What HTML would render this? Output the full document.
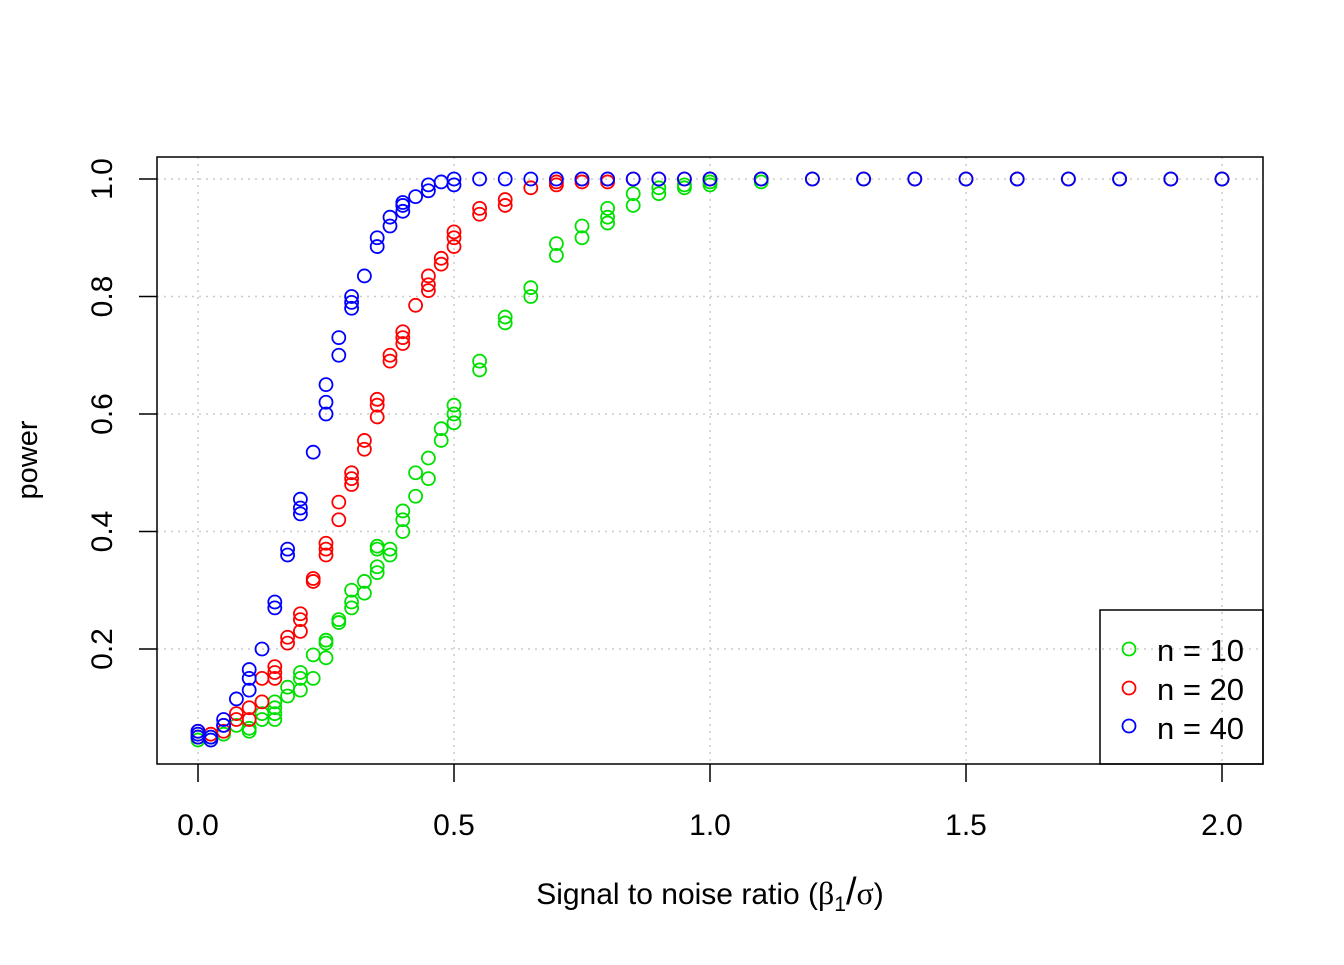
<!DOCTYPE html>
<html><head><meta charset="utf-8"><style>
body{margin:0;background:#fff}
svg text{font-family:"Liberation Sans",Arial,sans-serif;fill:#000}
</style></head><body>
<svg id="chart" width="1344" height="960" xmlns="http://www.w3.org/2000/svg">
<g id="grid"></g>
<g id="pts"></g>
<rect x="157" y="157" width="1106" height="607" fill="none" stroke="#000" stroke-width="1.5"/>
<g id="axes"></g>
<text x="710" y="904" font-size="30" text-anchor="middle">Signal to noise ratio (<tspan font-family="Liberation Serif" font-size="32">β</tspan><tspan font-size="21" dy="7">1</tspan><tspan dy="-7" font-size="38">/</tspan><tspan font-family="Liberation Serif" font-size="32">σ</tspan>)</text>
<text transform="translate(37,460) rotate(-90)" font-size="29" text-anchor="middle">power</text>
<g>
<rect x="1100" y="610" width="163" height="154" fill="none" stroke="#000" stroke-width="1.5"/>
<circle cx="1129" cy="649" r="6.5" fill="none" stroke="#00e000" stroke-width="1.8"/>
<text x="1157" y="661" font-size="31">n = 10</text>
<circle cx="1129" cy="688" r="6.5" fill="none" stroke="#f00" stroke-width="1.8"/>
<text x="1157" y="700" font-size="31">n = 20</text>
<circle cx="1129" cy="726" r="6.5" fill="none" stroke="#00f" stroke-width="1.8"/>
<text x="1157" y="739" font-size="31">n = 40</text>
</g>
</svg>
<script>
const xTicks=[0,0.5,1,1.5,2];
const xTickLabels=["0.0","0.5","1.0","1.5","2.0"];
const yTicks=[0.2,0.4,0.6,0.8,1.0];
const yTickLabels=["0.2","0.4","0.6","0.8","1.0"];
const xs=[0,0.025,0.05,0.075,0.1,0.125,0.15,0.175,0.2,0.225,0.25,0.275,0.3,0.325,0.35,0.375,0.4,0.425,0.45,0.475,0.5,0.55,0.6,0.65,0.7,0.75,0.8,0.85,0.9,0.95,1.0,1.1,1.2,1.3,1.4,1.5,1.6,1.7,1.8,1.9,2.0];
const green=[[0.045,0.05],[0.05],[0.055],[0.07],[0.06,0.065],[0.08,0.09],[0.08,0.09,0.1,0.11],[0.12,0.135],[0.13,0.15,0.16],[0.15,0.19],[0.185,0.21,0.215],[0.245,0.25],[0.27,0.28,0.3],[0.295,0.315],[0.33,0.34,0.37,0.375],[0.36,0.37],[0.4,0.42,0.435],[0.46,0.5],[0.49,0.525],[0.555,0.575],[0.585,0.6,0.615],[0.675,0.69],[0.755,0.765],[0.8,0.815],[0.87,0.89],[0.9,0.92],[0.925,0.935,0.95],[0.955,0.975],[0.975,0.985],[0.985,0.99],[0.99,0.995],[0.995,1],[1],[1],[1],[1],[1],[1],[1],[1],[1]];
const red=[[0.05,0.06],[0.055],[0.06,0.07],[0.08,0.09],[0.08,0.1],[0.11,0.15],[0.15,0.16,0.17],[0.21,0.22],[0.23,0.25,0.26],[0.315,0.32],[0.36,0.37,0.38],[0.42,0.45],[0.48,0.49,0.5],[0.54,0.555],[0.595,0.615,0.625],[0.69,0.70],[0.72,0.73,0.74],[0.785],[0.81,0.82,0.835],[0.855,0.865],[0.885,0.9,0.91],[0.94,0.95],[0.955,0.965],[0.985],[0.99,0.995],[0.995,1],[0.995,1],[1],[1],[1],[1],[1],[1],[1],[1],[1],[1],[1],[1],[1],[1]];
const blue=[[0.05,0.055,0.06],[0.045,0.05],[0.07,0.08],[0.115],[0.13,0.15,0.165],[0.2],[0.27,0.28],[0.36,0.37],[0.43,0.44,0.455],[0.535],[0.6,0.62,0.65],[0.70,0.73],[0.78,0.79,0.80],[0.835],[0.885,0.9],[0.92,0.935],[0.945,0.955,0.96],[0.97],[0.98,0.99],[0.995],[0.99,1.0],[1],[1],[1],[1],[1],[1],[1],[1],[1],[1],[1],[1],[1],[1],[1],[1],[1],[1],[1],[1]];
const NS="http://www.w3.org/2000/svg";
const X=v=>198+v*512;
const Y=v=>766.5-v*587.5;
function mk(tag,attrs,parent){const e=document.createElementNS(NS,tag);for(const k in attrs)e.setAttribute(k,attrs[k]);parent.appendChild(e);return e;}
const grid=document.getElementById('grid'),axes=document.getElementById('axes'),pts=document.getElementById('pts');
xTicks.forEach((t,i)=>{
 const g=mk('line',{x1:X(t),x2:X(t),y1:157,y2:764,stroke:'#ccc','stroke-width':1.5,'stroke-dasharray':'2,5'},grid);
 
 
 const tk=mk('line',{x1:X(t),x2:X(t),y1:764,y2:782,stroke:'#000','stroke-width':1.5},axes);
 
 
 const tx=mk('text',{x:X(t),y:835,'font-size':30,'text-anchor':'middle'},axes);
 tx.textContent=xTickLabels[i];
 
 
});
yTicks.forEach((t,i)=>{
 const g=mk('line',{x1:157,x2:1263,y1:Y(t),y2:Y(t),stroke:'#ccc','stroke-width':1.5,'stroke-dasharray':'2,5'},grid);
 
 
 const tk=mk('line',{x1:139,x2:157,y1:Y(t),y2:Y(t),stroke:'#000','stroke-width':1.5},axes);
 
 
 const tx=mk('text',{'font-size':30,'text-anchor':'middle',transform:`translate(112,${Y(t)}) rotate(-90)`},axes);
 tx.textContent=yTickLabels[i];
 
 
});
[[green,'#00e000','n10'],[red,'#ff0000','n20'],[blue,'#0000ff','n40']].forEach(([s,c,n])=>{
 s.forEach((vals,i)=>vals.forEach(v=>{
  const p=mk('circle',{cx:X(xs[i]),cy:Y(v),r:6.5,fill:'none',stroke:c,'stroke-width':1.8},pts);
  
  
 }));
});
</script>
</body></html>
